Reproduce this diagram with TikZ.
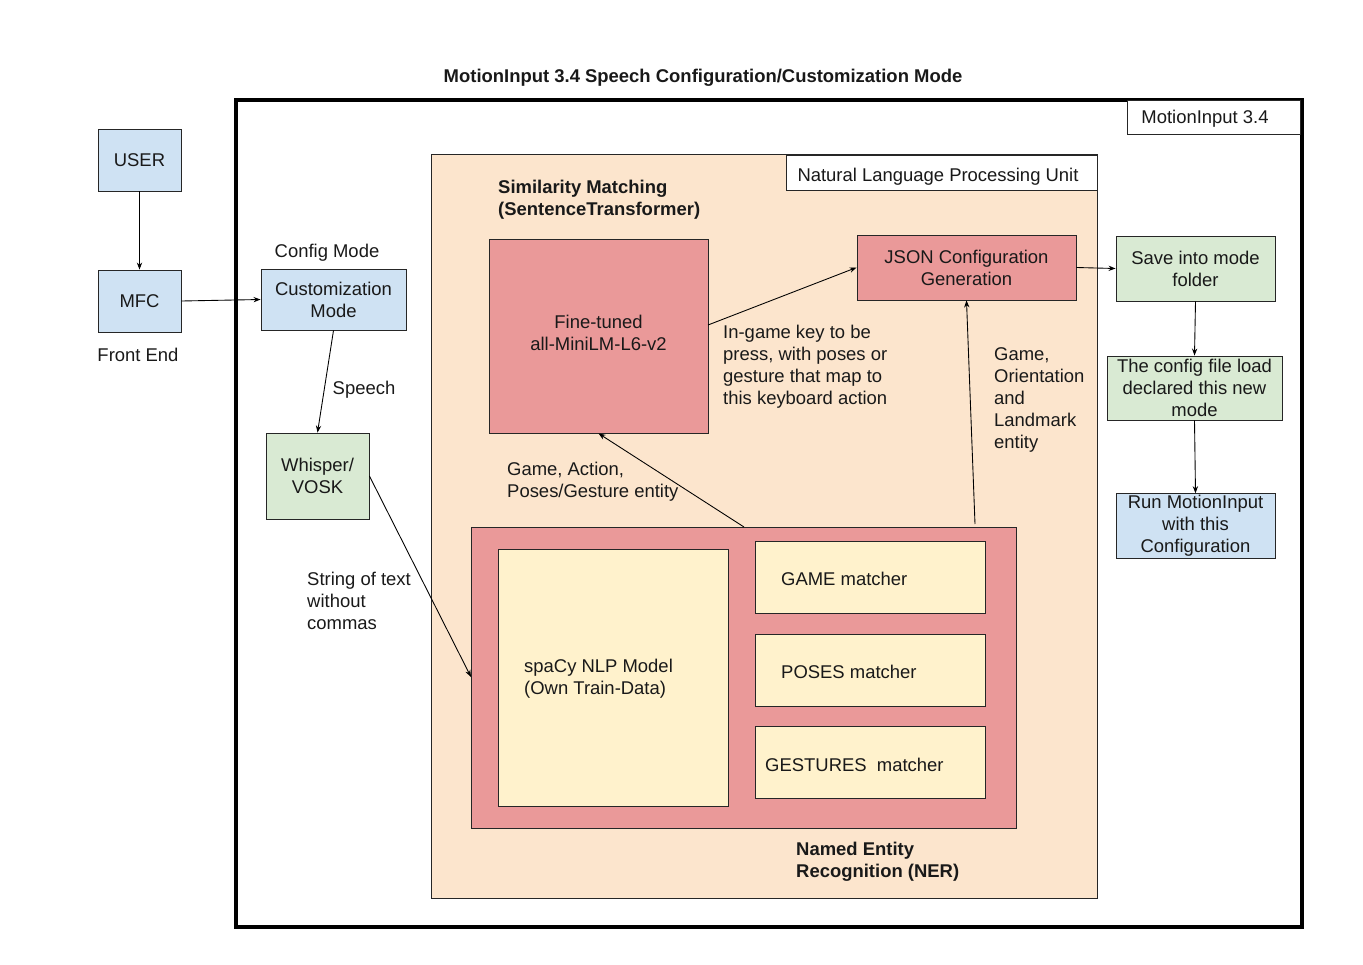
\documentclass[tikz,border=0pt]{standalone}
\usepackage{fontspec}
\setmainfont{Liberation Sans}
\usetikzlibrary{arrows.meta}
\definecolor{cblue}{HTML}{CFE2F3}
\definecolor{cgreen}{HTML}{D9EAD3}
\definecolor{cpeach}{HTML}{FCE5CD}
\definecolor{cred}{HTML}{EA9999}
\definecolor{cyel}{HTML}{FFF2CC}
\begin{document}
\begin{tikzpicture}[x=0.02cm,y=-0.02cm,
  every node/.style={font=\fontsize{10.5}{12.5}\selectfont,text=black!90},
  box/.style={draw=black!85,line width=0.5pt},
  lbl/.style={align=left,anchor=west},
  arr/.style={-{Stealth[length=4pt,width=3pt]},line width=0.5pt}]
\useasboundingbox (0,0) rectangle (1363,964);
\node[font=\bfseries\fontsize{10.5}{12.5}\selectfont] (title) at (703,78) {MotionInput 3.4 Speech Configuration/Customization Mode};
\draw[line width=1.9pt] (236,100) rectangle (1302,927);
\draw[box,fill=white] (1127,100) rectangle (1300,134);
\node (mil) at (1205,119) {MotionInput 3.4};

\node[box,fill=cblue,minimum width=1.66cm,minimum height=1.24cm] (user) at (139.5,160) {USER};
\node[box,fill=cblue,minimum width=1.66cm,minimum height=1.24cm] (mfc) at (139.5,301) {MFC};
\node (fe) at (138,355) {Front End};
\node[box,fill=cblue,minimum width=2.9cm,minimum height=1.22cm,align=center] (cm) at (333.5,299.5) {Customization\\Mode};
\node (cfg) at (327,253) {Config Mode};
\node[box,fill=cgreen,minimum width=2.06cm,minimum height=1.72cm,align=center] (wv) at (317.5,476) {Whisper/\\VOSK};

\draw[box,fill=cpeach] (431,154) rectangle (1097,898);
\draw[box,fill=white] (786,155) rectangle (1097,190);
\node (nlpu) at (938,177) {Natural Language Processing Unit};
\node[lbl,font=\bfseries\fontsize{10.5}{12.5}\selectfont] (sim) at (492,200) {Similarity Matching\\(SentenceTransformer)};

\node[box,fill=cred,minimum width=4.38cm,minimum height=3.88cm,align=center] (ft) at (598.5,336) {};
\node[align=center] (ftl) at (598.5,333) {Fine-tuned\\all-MiniLM-L6-v2};
\node[box,fill=cred,minimum width=4.38cm,minimum height=1.3cm,align=center] (json) at (966.5,267.5) {JSON Configuration\\Generation};
\node[box,fill=cgreen,minimum width=3.18cm,minimum height=1.3cm,align=center] (save) at (1195.5,268.5) {Save into mode\\folder};
\node[box,fill=cgreen,minimum width=3.5cm,minimum height=1.28cm,align=center,inner sep=1pt] (load) at (1194.5,388) {The config file load\\declared this new\\mode};
\node[box,fill=cblue,minimum width=3.18cm,minimum height=1.24cm,align=center,inner sep=1pt] (run) at (1195.5,526) {Run MotionInput\\with this\\Configuration};

\draw[box,fill=cred] (471,527) rectangle (1016,828);
\coordinate (nertop) at (744,527);
\coordinate (nertop2) at (975,524);
\coordinate (ftout) at (708,325);
\draw[box,fill=cyel] (498,549) rectangle (728,806);
\node[lbl] (spacy) at (518,679) {spaCy NLP Model\\(Own Train-Data)};
\draw[box,fill=cyel] (755,541) rectangle (985,613);
\node[lbl] (game) at (775,579) {GAME matcher};
\draw[box,fill=cyel] (755,634) rectangle (985,706);
\node[lbl] (poses) at (775,672) {POSES matcher};
\draw[box,fill=cyel] (755,726) rectangle (985,798);
\node[lbl] (gest) at (759,765) {GESTURES\ \ matcher};
\coordinate (nerleft) at (471,677);
\node[lbl,font=\bfseries\fontsize{10.5}{12.5}\selectfont] (ner) at (790,862) {Named Entity\\Recognition (NER)};

\draw[arr] (user) -- (mfc);
\draw[arr] (mfc.east) -- (cm.west);
\draw[arr] (cm.south) -- (wv.north);
\node (sp) at (364,390) {Speech};
\draw[arr] (wv.east) -- (nerleft);
\node[lbl] (str) at (301,601) {String of text\\without\\commas};
\draw[arr] (nertop) -- (ft.south);
\node[lbl] (gap) at (501,482) {Game, Action,\\Poses/Gesture entity};
\draw[arr] (ftout) -- (json.west);
\node[lbl] (ing) at (717,367) {In-game key to be\\press, with poses or\\gesture that map to\\this keyboard action};
\draw[arr] (nertop2) -- (json.south);
\node[lbl] (gol) at (988,400) {Game,\\Orientation\\and\\Landmark\\entity};
\draw[arr] (json.east) -- (save.west);
\draw[arr] (save.south) -- (load.north);
\draw[arr] (load.south) -- (run.north);
\end{tikzpicture}
\end{document}
